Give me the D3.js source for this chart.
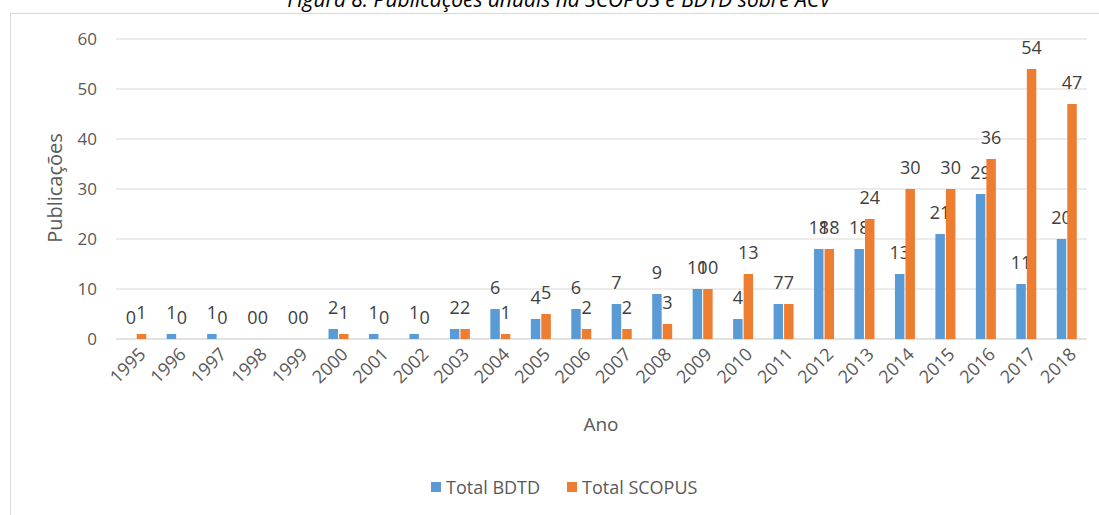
<!DOCTYPE html>
<html>
<head>
<meta charset="utf-8">
<script src="https://cdn.jsdelivr.net/npm/d3@7"></script>
<style>
  body { margin: 0; background: #fff; }
  svg { display: block; font-family: "Open Sans", sans-serif; }
</style>
</head>
<body>
<div id="chart"></div>
<script>
// data
const years = ["1995","1996","1997","1998","1999","2000","2001","2002","2003","2004","2005","2006",
  "2007","2008","2009","2010","2011","2012","2013","2014","2015","2016","2017","2018"];
const bdtd   = [0,1,1,0,0,2,1,1,2,6,4,6,7,9,10,4,7,18,18,13,21,29,11,20];
const scopus = [1,0,0,0,0,1,0,0,2,1,5,2,2,3,10,13,7,18,24,30,30,36,54,47];
const yTicks = [0,10,20,30,40,50,60];
const seriesNames = ["Total BDTD", "Total SCOPUS"];
const colors = ["#5B9BD5", "#ED7D31"];

const W = 1099, H = 515;
const margin = { top: 39, left: 116 };
const plotW = 1087 - margin.left;
const plotH = 339 - margin.top;

const svg = d3.select('#chart').append('svg')
  .attr('width', W)
  .attr('height', H);

// chart frame
svg.append('rect')
  .attr('x', 10.5).attr('y', 13.5)
  .attr('width', 1200).attr('height', 600)
  .attr('fill', 'none')
  .attr('stroke', '#D9D9D9');

// caption, cut at the top like the original
svg.append('text')
  .attr('x', 559).attr('y', 7)
  .attr('text-anchor', 'middle')
  .style('font-style', 'italic')
  .style('font-size', '21px')
  .attr('fill', '#000')
  .text('Figura 8: Publicações anuais na SCOPUS e BDTD sobre ACV');

const g = svg.append('g')
  .attr('transform', `translate(${margin.left},${margin.top})`);

const x = d3.scaleBand().domain(years).range([0, plotW]);
const x1 = d3.scaleBand().domain([0, 1]).range([-10, 10]).paddingInner(0.1);
const y = d3.scaleLinear().domain([0, 60]).range([plotH, 0]);

// gridlines
g.append('g')
  .selectAll('line')
  .data(yTicks)
  .enter()
  .append('line')
  .attr('x1', 0).attr('x2', plotW)
  .attr('y1', d => y(d)).attr('y2', d => y(d))
  .attr('stroke', '#D9D9D9')
  .attr('stroke-width', d => d === 0 ? 1.5 : 1);

// y axis labels
const yAxis = d3.axisLeft(y).tickValues(yTicks).tickSize(0).tickPadding(19);
g.append('g')
  .call(yAxis)
  .call(a => a.select('.domain').remove())
  .selectAll('text')
  .style('font-size', '17px')
  .style('font-family', '"Open Sans", sans-serif')
  .attr('fill', '#595959');

// x axis labels
const xAxis = d3.axisBottom(x).tickSize(0).tickPadding(0);
g.append('g')
  .attr('transform', `translate(0,${plotH})`)
  .call(xAxis)
  .call(a => a.select('.domain').remove())
  .selectAll('text')
  .attr('transform', 'translate(6,12) rotate(-45)')
  .attr('dy', '0.35em')
  .style('text-anchor', 'end')
  .style('font-size', '18px')
  .style('font-family', '"Open Sans", sans-serif')
  .attr('fill', '#595959');

// bars
const series = [bdtd, scopus];
series.forEach((vals, si) => {
  const grp = g.append('g');
  grp.selectAll('rect')
    .data(vals)
    .enter()
    .append('rect')
    .attr('x', (d, i) => x(years[i]) + x.bandwidth() / 2 + x1(si))
    .attr('width', x1.bandwidth())
    .attr('y', d => y(d))
    .attr('height', d => plotH - y(d))
    .attr('fill', colors[si]);
  grp.selectAll('text')
    .data(vals)
    .enter()
    .append('text')
    .attr('x', (d, i) => x(years[i]) + x.bandwidth() / 2 + x1(si) + x1.bandwidth() / 2)
    .attr('y', d => y(d) - 15)
    .attr('text-anchor', 'middle')
    .style('font-size', '18px')
    .attr('fill', '#404040')
    .text(d => d);
});

// axis titles
svg.append('text')
  .attr('x', 601).attr('y', 431)
  .attr('text-anchor', 'middle')
  .style('font-size', '19px')
  .attr('fill', '#595959')
  .text('Ano');

svg.append('text')
  .attr('transform', 'translate(62,188) rotate(-90)')
  .attr('text-anchor', 'middle')
  .style('font-size', '20px')
  .attr('fill', '#595959')
  .text('Publicações');

// legend
const legendX = [431, 567];
const legend = svg.append('g');
seriesNames.forEach((name, i) => {
  legend.append('rect')
    .attr('x', legendX[i]).attr('y', 482)
    .attr('width', 10).attr('height', 10)
    .attr('fill', colors[i]);
  legend.append('text')
    .attr('x', legendX[i] + 15).attr('y', 494)
    .style('font-size', '18px')
    .attr('fill', '#595959')
    .text(name);
});
</script>
</body>
</html>
